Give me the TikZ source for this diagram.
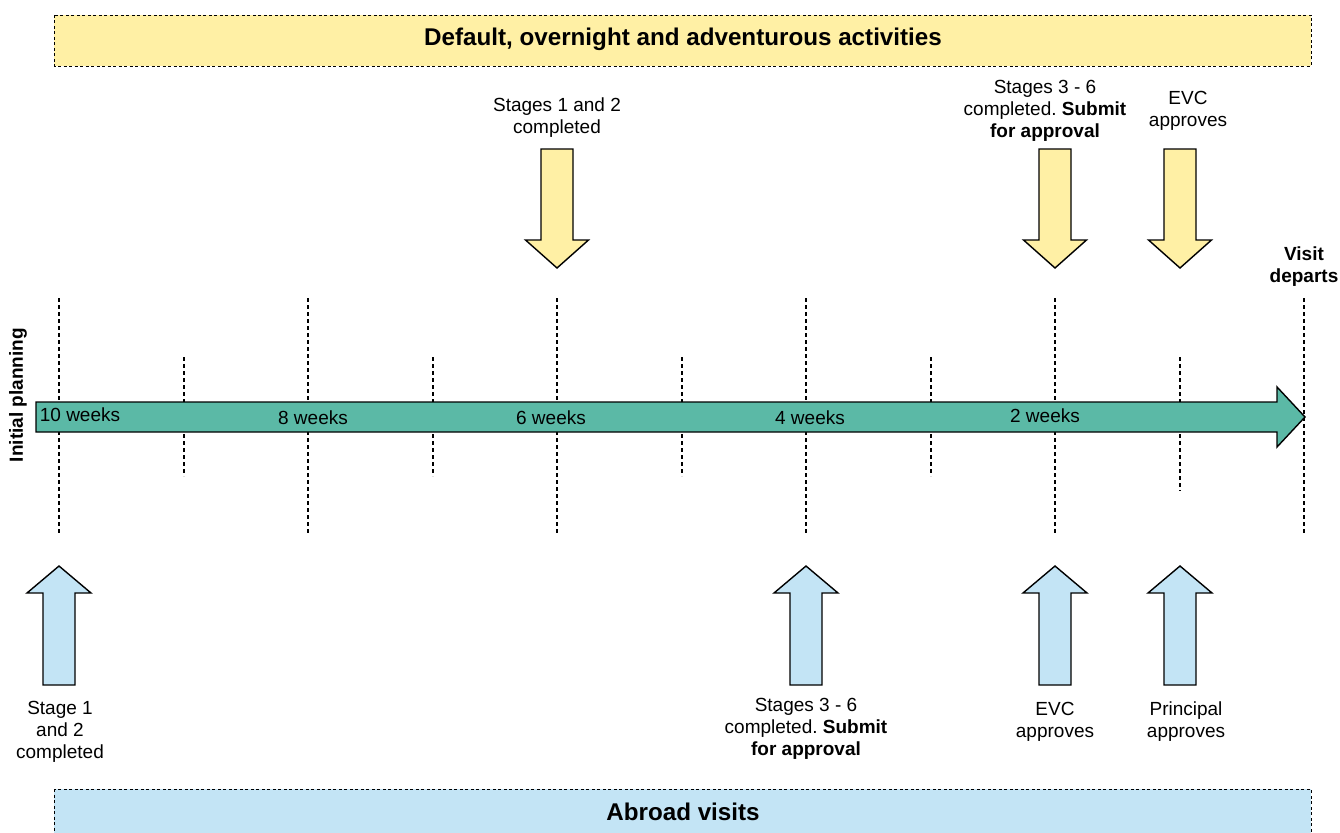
\documentclass[tikz,border=0pt]{standalone}
\usepackage{fontspec}
\setmainfont{Liberation Sans}
\frenchspacing
\begin{document}
\begin{tikzpicture}[x=1pt,y=-1pt,
  txt/.style={font=\fontsize{19}{22}\selectfont, align=center, inner sep=0pt},
  btxt/.style={txt, font=\fontsize{19}{22}\selectfont\bfseries},
  ttl/.style={font=\fontsize{24.2}{28}\selectfont\bfseries, inner sep=0pt},
  band/.style={draw=black, dashed, line width=0.9pt, dash pattern=on 3pt off 2.5pt},
  tick/.style={draw=black, line width=1.1pt, dash pattern=on 4pt off 3pt},
  blk/.style={draw=black, line width=1.4pt, line join=miter},
]
\definecolor{ylw}{RGB}{255,240,165}
\definecolor{blu}{RGB}{195,228,245}
\definecolor{teal}{RGB}{91,185,166}
\useasboundingbox (0,0) rectangle (1340,832);
\clip (0,0) rectangle (1340,832);

% bands
\path[band, fill=ylw] (54,15) rectangle (1311,66);
\node[ttl] (top) at (683,39) {Default, overnight and adventurous activities};
\path[band, fill=blu] (54,789) rectangle (1311,850);
\node[ttl] (bot) at (683,812) {Abroad visits};

% tick lines
\foreach \x in {59,308,557,806,1055,1304} \draw[tick] (\x,298) -- (\x,535);
\foreach \x in {184,433,682,931} \draw[tick] (\x,357) -- (\x,476);
\draw[tick] (1180,357) -- (1180,491);

% main timeline arrow
\path[blk, fill=teal] (36,402) -- (1277,402) -- (1277,387) -- (1305,417) -- (1277,447) -- (1277,432) -- (36,432) -- cycle;
\node[txt] (w10) at (80,415) {10 weeks};
\node[txt] (w8) at (313,418) {8 weeks};
\node[txt] (w6) at (551,418) {6 weeks};
\node[txt] (w4) at (810,418) {4 weeks};
\node[txt] (w2) at (1045,416) {2 weeks};

\node[btxt, rotate=90] (init) at (18,395) {Initial planning};
\node[btxt] (visit) at (1304,267) {Visit\\departs};

% yellow down arrows
\foreach \x in {557,1055,1180}
  \path[blk, fill=ylw] (\x-16,149) -- (\x+16,149) -- (\x+16,240) -- (\x+31.5,240) -- (\x,268) -- (\x-31.5,240) -- (\x-16,240) -- cycle;

\node[txt] (t1) at (557,117.5) {Stages 1 and 2\\completed};
\node[txt] (t2) at (1045,111) {Stages 3 - 6\\completed. \textbf{Submit}\\\textbf{for approval}};
\node[txt] (t3) at (1188,111) {EVC\\approves};

% blue up arrows
\foreach \x in {59,806,1055,1180}
  \path[blk, fill=blu] (\x-16,685) -- (\x+16,685) -- (\x+16,593) -- (\x+32,593) -- (\x,566) -- (\x-32,593) -- (\x-16,593) -- cycle;

\node[txt] (b1) at (60,732) {Stage 1\\and 2\\completed};
\node[txt] (b2) at (806,729) {Stages 3 - 6\\completed. \textbf{Submit}\\\textbf{for approval}};
\node[txt] (b3) at (1055,722) {EVC\\approves};
\node[txt] (b4) at (1186,722) {Principal\\approves};
\end{tikzpicture}
\end{document}
